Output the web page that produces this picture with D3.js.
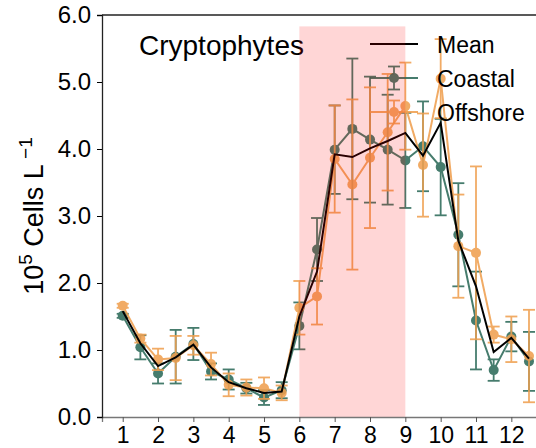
<!DOCTYPE html>
<html>
<head>
<meta charset="utf-8">
<script src="https://cdn.jsdelivr.net/npm/d3@7"></script>
<style>
  body { margin: 0; background: #fff; }
  svg { display: block; font-family: "Liberation Sans", Arial, sans-serif; }
</style>
</head>
<body>
<div id="chart_div"></div>
<script>
// half-month sampling
var months = [1, 1.5, 2, 2.5, 3, 3.5, 4, 4.5, 5, 5.5, 6, 6.5,
	      7, 7.5, 8, 8.5, 9, 9.5, 10, 10.5, 11, 11.5, 12, 12.5];

var coastal     = [1.51, 1.04, 0.65, 0.90, 1.09, 0.68, 0.56, 0.43, 0.29, 0.40, 1.36, 2.50,
		   3.99, 4.30, 4.14, 3.99, 3.83, 4.04, 3.73, 2.72, 1.44, 0.70, 1.20, 0.83];
var coastal_err = [0.03, 0.18, 0.15, 0.40, 0.24, 0.12, 0.15, 0.08, 0.11, 0.12, 0.35, 0.47,
		   0.66, 1.05, 0.94, 0.82, 0.71, 0.67, 0.72, 0.77, 0.73, 0.16, 0.22, 0.44];

var offshore     = [1.66, 1.17, 0.86, 0.88, 1.07, 0.79, 0.48, 0.44, 0.43, 0.36, 1.63, 1.80,
		    3.85, 3.47, 3.87, 4.25, 4.64, 3.76, 5.05, 2.55, 2.45, 1.23, 1.16, 0.91];
var offshore_err = [0.03, 0.06, 0.16, 0.33, 0.14, 0.17, 0.17, 0.12, 0.16, 0.11, 0.40, 0.42,
		    0.80, 1.27, 1.05, 0.87, 0.65, 0.77, 0.59, 0.77, 1.29, 0.12, 0.34, 0.69];

var mean = [1.58, 1.10, 0.76, 0.89, 1.08, 0.74, 0.52, 0.43, 0.36, 0.38, 1.50, 2.17,
	    3.92, 3.88, 4.01, 4.12, 4.24, 3.90, 4.39, 2.63, 1.95, 0.97, 1.18, 0.87];

var x_ticks = [1, 2, 3, 4, 5, 6, 7, 8, 9, 10, 11, 12];
var y_ticks = [0, 1, 2, 3, 4, 5, 6];

var shade = {start: 6, end: 9, top: 5.83};

var series = [
    {name: "Coastal",  values: coastal,  err: coastal_err,  color: "#2d6b5a"},
    {name: "Offshore", values: offshore, err: offshore_err, color: "#f0a050"}
];

var width = 536, height = 448;
var margin = {top: 15, left: 102, bottom: 31};

var svg = d3.select("#chart_div")
    .append("svg")
    .attr("width", width)
    .attr("height", height);

var x = d3.scaleLinear()
    .domain([0.414, 12.9])
    .range([margin.left, margin.left + (12.9 - 0.414) * 35.33]);

var y = d3.scaleLinear()
    .domain([0, 6])
    .range([height - margin.bottom, margin.top]);

var cap = 6;

// series: lines, error bars, markers
series.forEach(function (s) {
    var g = svg.append("g").attr("opacity", 0.88);
    var pts = months.map((m, i) => ({m: m, v: s.values[i], e: s.err[i]}));

    g.append("path")
	.datum(pts)
	.attr("fill", "none")
	.attr("stroke", s.color)
	.attr("stroke-width", 2)
	.attr("d", d3.line().x(d => x(d.m)).y(d => y(d.v)));

    var eb = g.selectAll(".eb")
	.data(pts)
	.enter()
	.append("g");
    eb.append("line")
	.attr("x1", d => x(d.m)).attr("x2", d => x(d.m))
	.attr("y1", d => y(d.v - d.e)).attr("y2", d => y(d.v + d.e))
	.attr("stroke", s.color).attr("stroke-width", 1.8);
    eb.append("line")
	.attr("x1", d => x(d.m) - cap).attr("x2", d => x(d.m) + cap)
	.attr("y1", d => y(d.v + d.e)).attr("y2", d => y(d.v + d.e))
	.attr("stroke", s.color).attr("stroke-width", 1.8);
    eb.append("line")
	.attr("x1", d => x(d.m) - cap).attr("x2", d => x(d.m) + cap)
	.attr("y1", d => y(d.v - d.e)).attr("y2", d => y(d.v - d.e))
	.attr("stroke", s.color).attr("stroke-width", 1.8);

    g.selectAll("circle")
	.data(pts)
	.enter()
	.append("circle")
	.attr("cx", d => x(d.m))
	.attr("cy", d => y(d.v))
	.attr("r", 5)
	.attr("fill", s.color);
});

svg.append("path")
    .datum(months.map((m, i) => [m, mean[i]]))
    .attr("fill", "none")
    .attr("stroke", "#000")
    .attr("stroke-width", 2)
    .attr("d", d3.line().x(d => x(d[0])).y(d => y(d[1])));

// title and legend
svg.append("text")
    .attr("x", 139).attr("y", 55)
    .attr("font-size", 28)
    .text("Cryptophytes");

var leg = svg.append("g");
var leg_rows = [{name: "Mean", color: "#000", marker: false}]
    .concat(series.map(s => ({name: s.name, color: s.color, marker: true})));

leg_rows.forEach(function (r, i) {
    var ly = 44 + i * 34;
    var row = leg.append("g").attr("opacity", r.marker ? 0.88 : 1);
    row.append("line")
	.attr("x1", 370).attr("x2", 418)
	.attr("y1", ly).attr("y2", ly)
	.attr("stroke", r.color).attr("stroke-width", 2);
    if (r.marker) {
	row.append("line")
	    .attr("x1", 394).attr("x2", 394)
	    .attr("y1", ly - 11.5).attr("y2", ly + 11.5)
	    .attr("stroke", r.color).attr("stroke-width", 1.8);
	[-11.5, 11.5].forEach(function (dy) {
	    row.append("line")
		.attr("x1", 394 - cap).attr("x2", 394 + cap)
		.attr("y1", ly + dy).attr("y2", ly + dy)
		.attr("stroke", r.color).attr("stroke-width", 1.8);
	});
	row.append("circle")
	    .attr("cx", 394).attr("cy", ly).attr("r", 5)
	    .attr("fill", r.color);
    }
    leg.append("text")
	.attr("x", 437).attr("y", ly + 9)
	.attr("font-size", 23)
	.text(r.name);
});

// shaded period drawn on top
svg.append("rect")
    .attr("x", x(shade.start))
    .attr("y", y(shade.top))
    .attr("width", x(shade.end) - x(shade.start))
    .attr("height", y(0) - y(shade.top))
    .attr("fill", "#ff0000")
    .attr("opacity", 0.16);

// axes
var x_axis = svg.append("g")
    .attr("transform", "translate(0," + y(0) + ")")
    .call(d3.axisBottom(x).tickValues(x_ticks).tickSize(5).tickPadding(5).tickFormat(d3.format("d")));
x_axis.select(".domain").attr("stroke", "#777").attr("stroke-width", 1.3);
x_axis.selectAll(".tick line").attr("stroke", "#555");
x_axis.selectAll("text").attr("font-size", 23).attr("fill", "#000")
    .attr("font-family", "Liberation Sans, Arial, sans-serif");

var y_axis = svg.append("g")
    .attr("transform", "translate(" + margin.left + ",0)")
    .call(d3.axisLeft(y).tickValues(y_ticks).tickSize(5).tickPadding(6).tickFormat(d3.format(".1f")));
y_axis.select(".domain").attr("stroke", "#222").attr("stroke-width", 1.3);
y_axis.selectAll("text").attr("font-size", 24).attr("fill", "#000")
    .attr("font-family", "Liberation Sans, Arial, sans-serif");

// top spine
svg.append("line")
    .attr("x1", margin.left).attr("x2", width)
    .attr("y1", y(6)).attr("y2", y(6))
    .attr("stroke", "#222").attr("stroke-width", 1.3);

// y label
var ylab = svg.append("text")
    .attr("transform", "translate(43," + ((y(0) + y(6)) / 2) + ") rotate(-90)")
    .attr("text-anchor", "middle")
    .attr("font-size", 27);
ylab.append("tspan").text("10");
ylab.append("tspan").attr("dy", -11).attr("font-size", 19).text("5");
ylab.append("tspan").attr("dy", 11).text(" Cells L");
ylab.append("tspan").attr("dy", -11).attr("font-size", 19).text(" \u22121");
</script>
</body>
</html>
